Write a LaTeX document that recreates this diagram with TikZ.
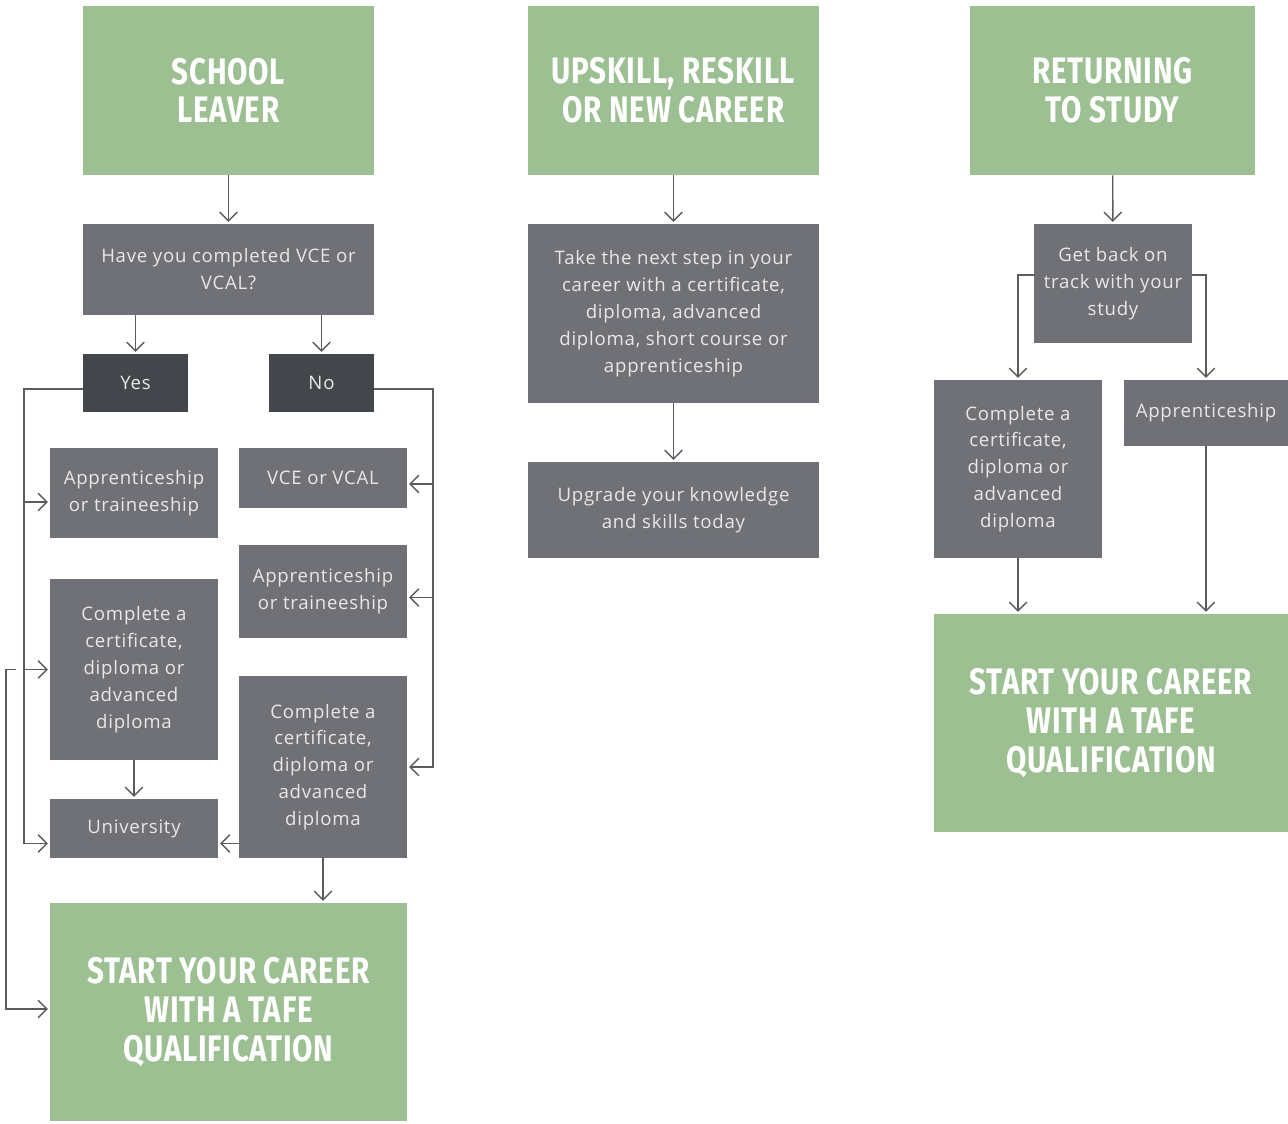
\documentclass[tikz,border=0pt]{standalone}
\usepackage{fontspec}
\setmainfont{Open Sans}[LetterSpace=4]
\newfontfamily\headfont[FakeStretch=0.8,LetterSpace=2]{Fira Sans}
\usetikzlibrary{arrows.meta}
\definecolor{tafegreen}{HTML}{9DC093}
\definecolor{boxgrey}{HTML}{707176}
\definecolor{pickgrey}{HTML}{43464A}
\definecolor{boxtext}{HTML}{E8E8E8}
\definecolor{linegrey}{HTML}{5A5B5E}
\begin{document}
\begin{tikzpicture}[x=0.02cm,y=-0.02cm,
  head/.style={fill=tafegreen,text=white,align=center,inner sep=0pt,
    font=\headfont\bfseries\fontsize{21}{22}\selectfont},
  box/.style={fill=boxgrey,text=boxtext,align=center,inner sep=0pt,
    font=\fontsize{10.6}{15.3}\selectfont},
  pick/.style={box,fill=pickgrey},
  link/.style={draw=linegrey,line width=0.8pt,shorten >=1pt,
    -{Straight Barb[length=5pt,width=10pt]}}]
\useasboundingbox (0,0) rectangle (1288,1124);

% school leaver
\node[head,minimum width=5.82cm,minimum height=3.38cm] (school) at (228.5,90.5) {SCHOOL\\LEAVER};
\node[box,minimum width=5.82cm,minimum height=1.82cm] (vcequery) at (228.5,269.5) {Have you completed VCE or\\VCAL?};
\node[pick,minimum width=2.10cm,minimum height=1.16cm] (yes) at (135.5,383) {Yes};
\node[pick,minimum width=2.10cm,minimum height=1.16cm] (no) at (321.5,383) {No};
\node[box,minimum width=3.36cm,minimum height=1.80cm] (apprL) at (134,493) {Apprenticeship\\or traineeship};
\node[box,minimum width=3.36cm,minimum height=3.62cm] (compL) at (134,669.5) {Complete a\\certificate,\\diploma or\\advanced\\diploma};
\node[box,minimum width=3.36cm,minimum height=1.18cm] (univ) at (134,828.5) {University};
\node[box,minimum width=3.36cm,minimum height=1.20cm] (vce) at (323,478) {VCE or VCAL};
\node[box,minimum width=3.36cm,minimum height=1.86cm] (apprR) at (323,591.5) {Apprenticeship\\or traineeship};
\node[box,minimum width=3.36cm,minimum height=3.64cm] (compR) at (323,767) {Complete a\\certificate,\\diploma or\\advanced\\diploma};
\node[head,minimum width=7.14cm,minimum height=4.36cm] (startL) at (228.5,1012) {START YOUR CAREER\\WITH A TAFE\\QUALIFICATION};

% upskill
\node[head,minimum width=5.82cm,minimum height=3.38cm] (upskill) at (673.5,90.5) {UPSKILL, RESKILL\\OR NEW CAREER};
\node[box,minimum width=5.82cm,minimum height=3.58cm] (nextstep) at (673.5,313.5) {Take the next step in your\\career with a certificate,\\diploma, advanced\\diploma, short course or\\apprenticeship};
\node[box,minimum width=5.82cm,minimum height=1.92cm] (upgrade) at (673.5,510) {Upgrade your knowledge\\and skills today};

% returning
\node[head,minimum width=5.70cm,minimum height=3.38cm] (returning) at (1112.5,90.5) {RETURNING\\TO STUDY};
\node[box,minimum width=3.16cm,minimum height=2.38cm] (getback) at (1113,283.5) {Get back on\\track with your\\study};
\node[box,minimum width=3.36cm,minimum height=3.56cm] (compRR) at (1018,469) {Complete a\\certificate,\\diploma or\\advanced\\diploma};
\node[box,minimum width=3.28cm,minimum height=1.32cm] (apprRR) at (1206,413) {Apprenticeship};
\node[head,minimum width=7.08cm,minimum height=4.36cm] (startRR) at (1111,723) {START YOUR CAREER\\WITH A TAFE\\QUALIFICATION};

\coordinate (lrail) at (24,0);
\coordinate (rrail) at (433,0);
\coordinate (frail) at (6,0);
\coordinate (fstub) at (16,0);

\draw[link] (school) -- (vcequery);
\draw[link] (vcequery.south -| yes.north) -- (yes.north);
\draw[link] (vcequery.south -| no.north) -- (no.north);
\draw[link] ([yshift=-0.12cm]yes.west) -| ([yshift=-0.3cm]lrail |- univ.west) -- ([yshift=-0.3cm]univ.west);
\draw[link] ([yshift=-0.18cm]lrail |- apprL.west) -- ([yshift=-0.18cm]apprL.west);
\draw[link] (lrail |- compL.west) -- (compL.west);
\draw[link] ([yshift=-0.12cm]no.east) -| (rrail |- compR.east) -- (compR.east);
\draw[link] ([yshift=-0.12cm]rrail |- vce.east) -- ([yshift=-0.12cm]vce.east);
\draw[link] ([yshift=-0.12cm]rrail |- apprR.east) -- ([yshift=-0.12cm]apprR.east);
\draw[link] (compL) -- (univ);
\draw[link] ([yshift=-0.3cm]compR.west |- univ.east) -- ([yshift=-0.3cm]univ.east);
\draw[link] (compR.south) -- (compR.south |- startL.north);
\draw[link] (fstub |- compL.west) -- (frail |- compL.west) |- ([yshift=0.06cm]startL.west);
\draw[link] (upskill) -- (nextstep);
\draw[link] (nextstep) -- (upgrade);
\draw[link] (returning) -- (getback);
\draw[link] ([yshift=0.17cm]getback.west) -| (compRR.north);
\draw[link] ([yshift=0.17cm]getback.east) -| (apprRR.north);
\draw[link] (compRR.south) -- (compRR.south |- startRR.north);
\draw[link] (apprRR.south) -- (apprRR.south |- startRR.north);
\end{tikzpicture}
\end{document}
